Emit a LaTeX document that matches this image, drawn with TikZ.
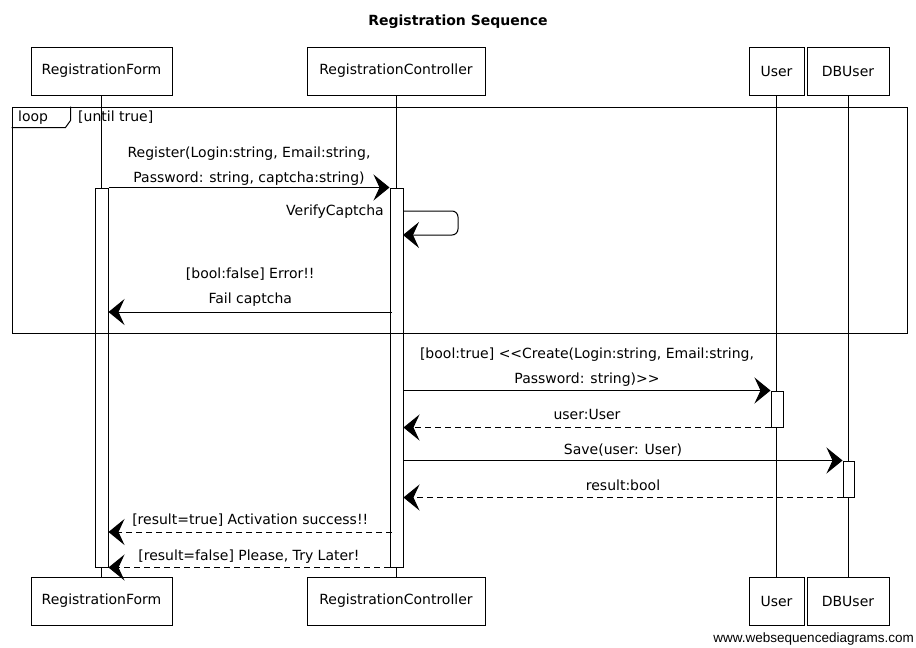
\documentclass[tikz,border=0pt]{standalone}
\usepackage{fontspec}
\setmainfont{DejaVu Sans}
\newfontfamily\wsdfont{Liberation Sans}
\usepackage{tikz}
\usetikzlibrary{arrows.meta}
\usetikzlibrary{calc}

\tikzset{
actor/.style={draw,line width=1pt,minimum height=48pt,inner sep=0pt,font=\fontsize{14}{16}\selectfont},
act/.style={draw,line width=1pt,fill=white,inner sep=0pt},
lbl/.style={font=\fontsize{14}{25}\selectfont,align=center,inner sep=2pt},
call/.style={line width=1pt,-{Stealth[length=16pt,width=26pt,inset=6pt]}},
reply/.style={call,dash pattern=on 6pt off 4pt},
}

\begin{document}
\begin{tikzpicture}[x=1pt,y=-1pt]
\useasboundingbox (0,0) rectangle (916,648);
\path (458,22) node(title) [font=\bfseries\fontsize{14}{16}\selectfont]{Registration Sequence};
%top and bottom boxes
\path (101.5,71) node(formtop) [actor,minimum width=141pt]{RegistrationForm};
\path (396,71) node(ctrltop) [actor,minimum width=178pt]{RegistrationController};
\path (776.5,71) node(usertop) [actor,minimum width=55pt]{User};
\path (848,71) node(dbtop) [actor,minimum width=82pt]{DBUser};
\path (101.5,601) node(formbot) [actor,minimum width=141pt]{RegistrationForm};
\path (396,601) node(ctrlbot) [actor,minimum width=178pt]{RegistrationController};
\path (776.5,601) node(userbot) [actor,minimum width=55pt]{User};
\path (848,601) node(dbbot) [actor,minimum width=82pt]{DBUser};
\draw[line width=0.8pt] (formtop) -- (formbot);
\draw[line width=0.8pt] (ctrltop) -- (ctrlbot);
\draw[line width=0.8pt] (usertop) -- (userbot);
\draw[line width=0.8pt] (dbtop) -- (dbbot);
%activations
\path (101.5,377.5) node(formact) [act,minimum width=13pt,minimum height=379pt]{};
\path (396.5,377.5) node(ctrlact) [act,minimum width=13pt,minimum height=379pt]{};
\path (777,409) node(useract) [act,minimum width=12pt,minimum height=36pt]{};
\path (848.5,479) node(dbact) [act,minimum width=11pt,minimum height=36pt]{};
%loop
\path (459.5,220) node(loop) [draw,line width=1pt,minimum width=895pt,minimum height=226pt]{};
\draw[line width=1pt] (loop.north west) ++(0,21) coordinate(tab) -- ++(54,0) -- ++(5,-7) -- ++(0,-14);
\path (16,117.5) node(looplbl) [anchor=west,lbl]{loop};
\path (76,117.5) node(loopcond) [anchor=west,lbl]{[until true]};
%messages
\draw[call] (formact.north east) -- node(reglbl) [above,lbl]{Register(Login:string, Email:string,\\Password: string, captcha:string)} (ctrlact.north west);
\path (403,211) coordinate(vc-s) (403,235) coordinate(vc-e);
\draw[call,rounded corners=6pt] (vc-s) -| (458,223) |- (vc-e);
\path (386,212) node(vclbl) [anchor=east,lbl]{VerifyCaptcha};
\path (392,312) coordinate(fail-s);
\draw[call] (fail-s) -- node(faillbl) [above=3pt,lbl]{[bool:false] Error!!\\Fail captcha} (formact.east |- fail-s);
\draw[call] (ctrlact.east |- useract.north) -- node(createlbl) [above=2pt,lbl]{[bool:true] {<}{<}Create(Login:string, Email:string,\\Password: string){>}{>}} (useract.north west);
\draw[reply] (useract.south west) -- node(userlbl) [above=5pt,lbl]{user:User} (ctrlact.east |- useract.south);
\draw[call] (ctrlact.east |- dbact.north) -- node(savelbl) [above=2pt,lbl]{Save(user: User)} (dbact.north west);
\draw[reply] (dbact.south west) -- node(reslbl) [above=4pt,lbl]{result:bool} (ctrlact.east |- dbact.south);
\path (392,532) coordinate(ok-s);
\draw[reply] (ok-s) -- node(oklbl) [above=3pt,lbl]{[result=true] Activation success!!} (formact.east |- ok-s);
\draw[reply] (ctrlact.south west) -- node(laterlbl) [above=2pt,lbl]{[result=false] Please, Try Later!} (formact.south east);
\path (914,639) node(wsd) [anchor=east,inner sep=0pt,font=\wsdfont\fontsize{13.5}{15}\selectfont]{www.websequencediagrams.com};
\end{tikzpicture}
\end{document}
